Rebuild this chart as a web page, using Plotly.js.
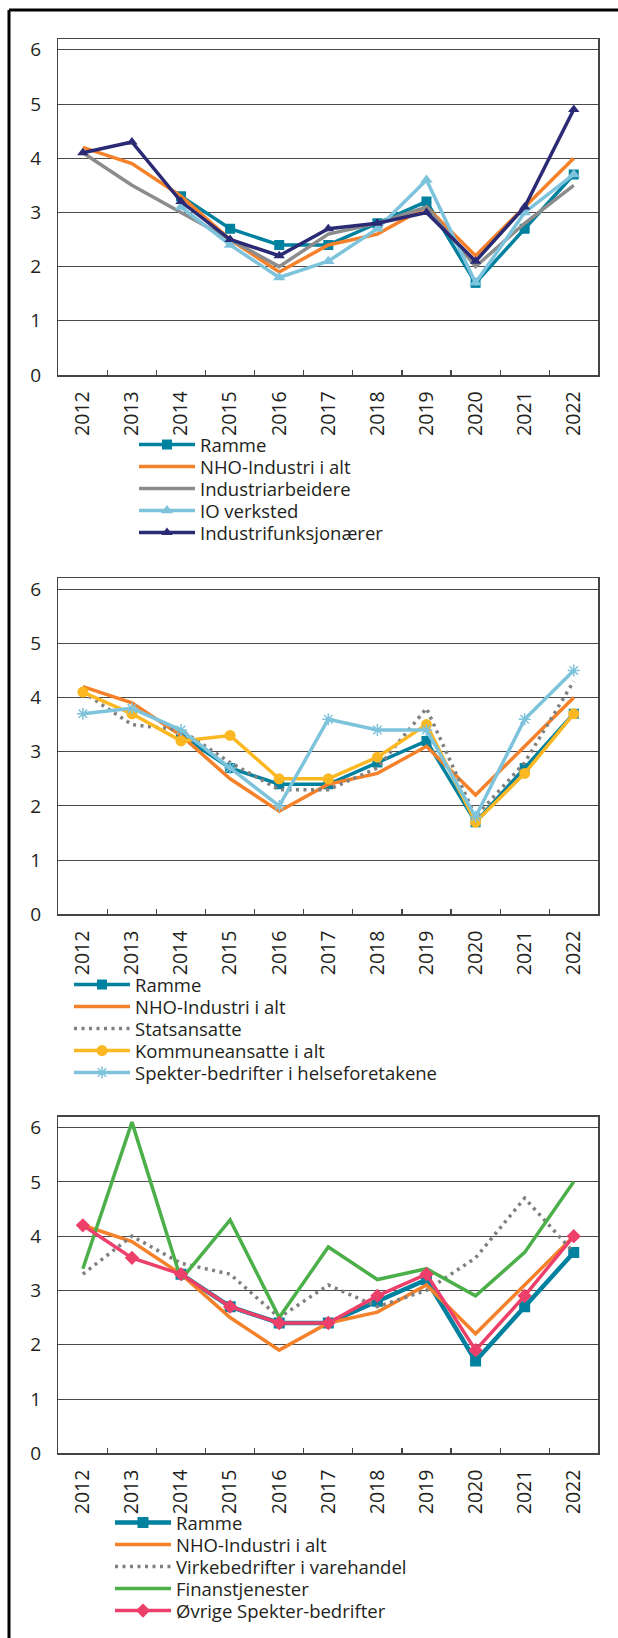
<!DOCTYPE html>
<html>
<head>
<meta charset="utf-8">
<script src="https://cdn.plot.ly/plotly-3.0.1.min.js"></script>
<style>
  html, body { margin: 0; padding: 0; background: #ffffff; }
  #chart { width: 618px; height: 1638px; }
</style>
</head>
<body>
<div id="chart"></div>
<script>
// ---- Data ----
const years = ['2012','2013','2014','2015','2016','2017','2018','2019','2020','2021','2022'];

const ramme                = [null, null, 3.3, 2.7, 2.4, 2.4, 2.8, 3.2, 1.7, 2.7, 3.7];
const nhoIndustri          = [4.2, 3.9, 3.3, 2.5, 1.9, 2.4, 2.6, 3.1, 2.2, 3.1, 4.0];
const industriarbeidere    = [4.1, 3.5, 3.0, 2.5, 2.0, 2.6, 2.8, 3.1, 2.0, 2.8, 3.5];
const ioVerksted           = [null, null, 3.1, 2.4, 1.8, 2.1, 2.7, 3.6, 1.7, 3.0, 3.7];
const industrifunksjonaerer= [4.1, 4.3, 3.2, 2.5, 2.2, 2.7, 2.8, 3.0, 2.1, 3.1, 4.9];

const statsansatte         = [4.1, 3.5, 3.4, 2.8, 2.3, 2.3, 2.7, 3.8, 1.8, 2.8, 4.3];
const kommuneansatte       = [4.1, 3.7, 3.2, 3.3, 2.5, 2.5, 2.9, 3.5, 1.7, 2.6, 3.7];
const spekterHelse         = [3.7, 3.8, 3.4, 2.7, 2.0, 3.6, 3.4, 3.4, 1.8, 3.6, 4.5];

const virkeVarehandel      = [3.3, 4.0, 3.5, 3.3, 2.5, 3.1, 2.7, 3.0, 3.6, 4.7, 3.7];
const finanstjenester      = [3.4, 6.1, 3.2, 4.3, 2.5, 3.8, 3.2, 3.4, 2.9, 3.7, 5.0];
const ovrigeSpekter        = [4.2, 3.6, 3.3, 2.7, 2.4, 2.4, 2.9, 3.3, 1.9, 2.9, 4.0];

const yTicks = [0, 1, 2, 3, 4, 5, 6];

// ---- Styling ----
const C = {
  ramme: '#00819f',
  nho: '#f5822a',
  indArb: '#8c8c8c',
  io: '#7ec3dc',
  indFunk: '#2b2a74',
  stat: '#808080',
  kommune: '#fcb823',
  spekter: '#7ec3dc',
  finans: '#4cb04a',
  ovrige: '#ec3f6a'
};
const LW = 3.5;
const FONT = '"Open Sans", "Noto Sans", sans-serif';
const TXT = '#231f20';
const W = 618, H = 1638;
const px = v => v / W;
const py = v => 1 - v / H;

const legends = {};
let legendCount = 0;
function makeLegend(xLeft, yMid) {
  legendCount += 1;
  const id = legendCount === 1 ? 'legend' : 'legend' + legendCount;
  legends[id] = {
    x: px(xLeft), xanchor: 'left', y: py(yMid), yanchor: 'middle',
    font: { family: FONT, size: 18.5, color: TXT },
    bgcolor: 'rgba(0,0,0,0)', borderwidth: 0,
    tracegroupgap: 0, itemwidth: 56, orientation: 'v'
  };
  return id;
}

function tr(name, y, color, ax, lgPos, opts) {
  opts = opts || {};
  const t = {
    type: 'scatter',
    x: years,
    y: y,
    name: name,
    xaxis: ax[0],
    yaxis: ax[1],
    legend: makeLegend(lgPos[0], lgPos[1]),
    mode: opts.marker ? 'lines+markers' : 'lines',
    line: { color: color, width: opts.width || LW, dash: opts.dash || 'solid' },
    connectgaps: false,
    hoverinfo: 'x+y+name'
  };
  if (opts.marker) {
    t.marker = { symbol: opts.marker, size: opts.msize || 10, color: color,
                 line: { color: color, width: opts.mlw || 0 } };
  }
  return t;
}

const A1 = ['x', 'y'], A2 = ['x2', 'y2'], A3 = ['x3', 'y3'];
const dotted = '3px,4.5px';
const L1x = 134, L2x = 69, L3x = 110;

const data = [
  tr('Ramme', ramme, C.ramme, A1, [L1x, 445], { marker: 'square' }),
  tr('NHO-Industri i alt', nhoIndustri, C.nho, A1, [L1x, 467]),
  tr('Industriarbeidere', industriarbeidere, C.indArb, A1, [L1x, 489]),
  tr('IO verksted', ioVerksted, C.io, A1, [L1x, 511], { marker: 'triangle-up', msize: 11 }),
  tr('Industrifunksjonærer', industrifunksjonaerer, C.indFunk, A1, [L1x, 533], { marker: 'triangle-up', msize: 10 }),

  tr('Ramme', ramme, C.ramme, A2, [L2x, 985], { marker: 'square' }),
  tr('NHO-Industri i alt', nhoIndustri, C.nho, A2, [L2x, 1007]),
  tr('Statsansatte', statsansatte, C.stat, A2, [L2x, 1029], { dash: dotted, width: 3.5 }),
  tr('Kommuneansatte i alt', kommuneansatte, C.kommune, A2, [L2x, 1051], { marker: 'circle', msize: 11 }),
  tr('Spekter-bedrifter i helseforetakene', spekterHelse, C.spekter, A2, [L2x, 1073], { marker: 'asterisk-open', msize: 10, mlw: 1.5 }),

  tr('Ramme', ramme, C.ramme, A3, [L3x, 1523], { marker: 'square', width: 4.5, msize: 11 }),
  tr('NHO-Industri i alt', nhoIndustri, C.nho, A3, [L3x, 1545]),
  tr('Virkebedrifter i varehandel', virkeVarehandel, C.stat, A3, [L3x, 1567], { dash: dotted, width: 3.5 }),
  tr('Finanstjenester', finanstjenester, C.finans, A3, [L3x, 1589]),
  tr('Øvrige Spekter-bedrifter', ovrigeSpekter, C.ovrige, A3, [L3x, 1611], { marker: 'diamond', msize: 11 })
];

const xDom = [px(58.3), px(598.3)];

function xAx(anchor) {
  return {
    domain: xDom, anchor: anchor,
    type: 'category', categoryorder: 'array', categoryarray: years,
    range: [-0.5, 10.5],
    tickson: 'boundaries', ticks: 'inside', ticklen: 5, tickwidth: 1.2, tickcolor: '#444',
    tickangle: -90, ticklabelstandoff: 7,
    tickfont: { family: FONT, size: 19.5, color: TXT },
    showline: true, linecolor: '#444', linewidth: 1.5, mirror: true,
    showgrid: false, zeroline: false, fixedrange: true
  };
}
function yAx(top, bottom, anchor) {
  return {
    domain: [py(bottom), py(top)], anchor: anchor,
    range: [0, 6.2], tickmode: 'array', tickvals: yTicks, ticktext: yTicks.map(String),
    ticks: '', ticklabelstandoff: 12,
    tickfont: { family: FONT, size: 19, color: TXT },
    showgrid: true, gridcolor: '#4a4a4a', gridwidth: 1,
    showline: true, linecolor: '#444', linewidth: 1.5, mirror: true,
    zeroline: false, fixedrange: true
  };
}

const layout = Object.assign({
  width: W, height: H,
  margin: { l: 0, r: 0, t: 0, b: 0, pad: 0 },
  paper_bgcolor: '#ffffff', plot_bgcolor: '#ffffff',
  font: { family: FONT, size: 18, color: TXT },
  showlegend: true,
  xaxis: xAx('y'), yaxis: yAx(39, 375, 'x'),
  xaxis2: xAx('y2'), yaxis2: yAx(578.3, 914.3, 'x2'),
  xaxis3: xAx('y3'), yaxis3: yAx(1116.7, 1453.3, 'x3'),
  shapes: [
    { type: 'line', xref: 'paper', yref: 'paper', x0: px(9), x1: 1, y0: py(10), y1: py(10),
      line: { color: '#000', width: 3 } },
    { type: 'line', xref: 'paper', yref: 'paper', x0: px(9), x1: px(9), y0: py(10), y1: 0,
      line: { color: '#000', width: 3 } }
  ]
}, legends);

Plotly.newPlot('chart', data, layout, { displayModeBar: false, staticPlot: true });
</script>
</body>
</html>
